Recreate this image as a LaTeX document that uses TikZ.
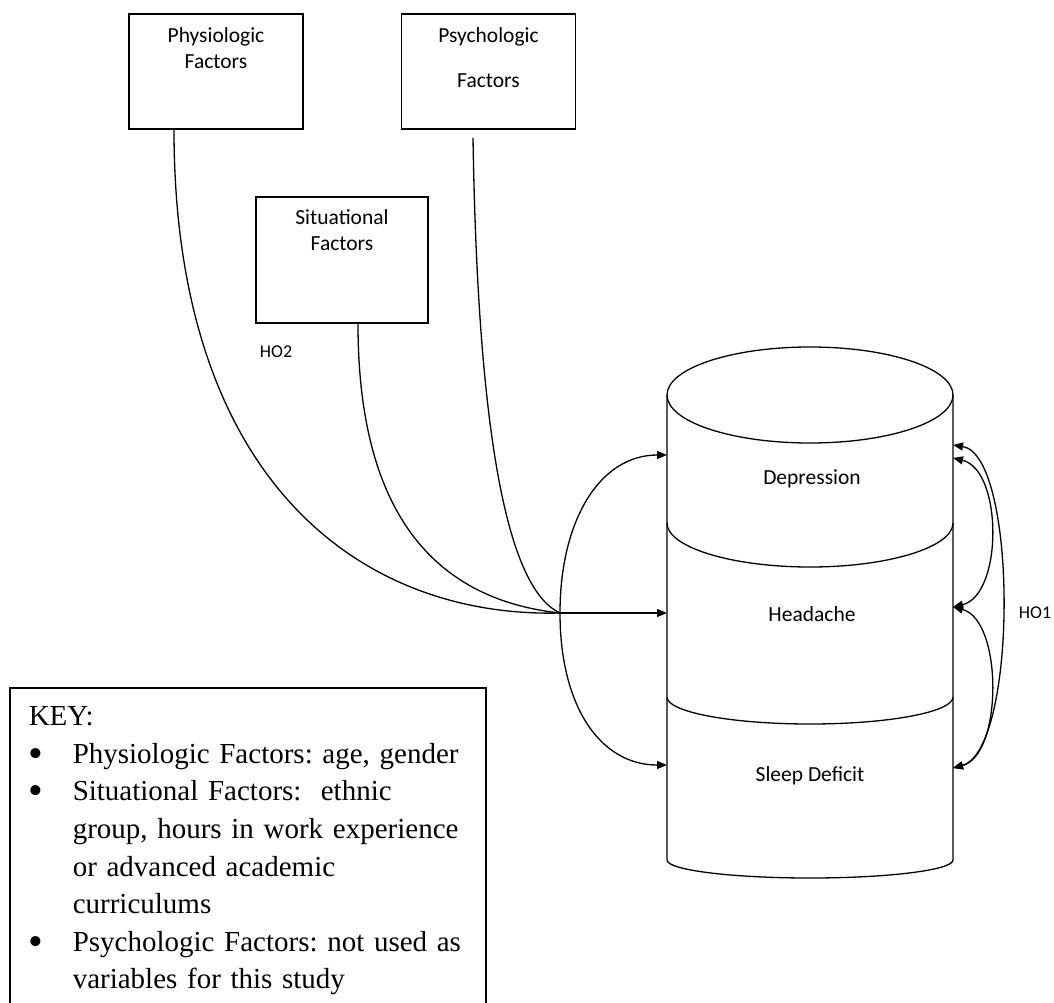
\documentclass[tikz,border=0pt]{standalone}
\usepackage{fontspec}
\usepackage{graphicx}
\setmainfont{Liberation Serif}
\newfontfamily\calibri{Carlito}
\usetikzlibrary{arrows.meta,positioning}
\newcommand\keybullet{\raisebox{-0.13em}{\scalebox{1.45}{\textbullet}}}
\newenvironment{keylist}{\setlength\linewidth{\hsize}\begin{list}{\keybullet}{\setlength\leftmargin{44pt}\setlength\labelwidth{44pt}\setlength\labelsep{0pt}\setlength\itemsep{0pt}\setlength\topsep{0pt}\setlength\partopsep{0pt}\setlength\parsep{0pt}\renewcommand\makelabel[1]{##1\hfil}}\raggedright}{\end{list}}

\begin{document}
\begin{tikzpicture}[x=1pt,y=-1pt,
  factor/.style={draw, line width=1.6pt, minimum width=174pt, minimum height=115pt, inner sep=0pt},
  boxtext/.style={font=\calibri\fontsize{21.5}{26}\selectfont, align=center, inner sep=0pt},
  hyp/.style={font=\calibri\fontsize{18}{22}\selectfont, inner sep=0pt},
  link/.style={line width=1.3pt},
  arrowlink/.style={line width=1.3pt, -{Triangle[length=10pt,width=8pt]}},
  twoway/.style={line width=1.3pt, {Triangle[length=10pt,width=8pt]}-{Triangle[length=10pt,width=8pt]}}]
\useasboundingbox (0,0) rectangle (1054,1003);
\clip (0,0) rectangle (1054,1003);

\node[factor] (phys) at (216,71.5) {};
\node[boxtext, anchor=north] (physlabel) at ([yshift=-14.5pt]phys.north) {Physiologic\\Factors};
\node[factor] (psy) at (488.5,71.5) {};
\node[boxtext, anchor=north] (psylabel) at ([yshift=-14.5pt]psy.north) {Psychologic\\[19pt]Factors};
\node[factor, minimum width=172pt, minimum height=126pt] (sit) at (342,260) {};
\node[boxtext, anchor=north] (sitlabel) at ([yshift=-13pt]sit.north) {Situational\\Factors};
\node[hyp] (hotwo) at (276,352) {HO2};
\node[hyp] (hoone) at (1035,613) {HO1};

\draw[link] (810,395) ellipse [x radius=143, y radius=48];
\draw[link] (667,395) -- (667,860) .. controls (667,870) and (731,878) .. (810,878) .. controls (889,878) and (953,870) .. (953,860) -- (953,395);
\draw[link] (667,523) .. controls (667,547) and (731,567) .. (810,567) .. controls (889,567) and (953,547) .. (953,523);
\draw[link] (667,697) .. controls (667,712) and (731,724) .. (810,724) .. controls (889,724) and (953,712) .. (953,697);
\node[boxtext] (dep) at (812,479) {Depression};
\node[boxtext] (head) at (812,614) {Headache};
\node[boxtext] (sleep) at (810,776) {Sleep Deficit};

\coordinate (hub) at (560,613);
\coordinate (depin) at (667,455);
\coordinate (headin) at (667,613);
\coordinate (sleepin) at (667,765);
\coordinate (depout) at (953,445);
\coordinate (depouttwo) at (953,458);
\coordinate (headout) at (953,607);
\coordinate (sleepout) at (953,768);

\draw[link] ([xshift=-42pt]phys.south) .. controls (174,480) and (360,618) .. (hub);
\draw[link] ([xshift=16pt]sit.south) .. controls (358,520) and (440,600) .. (hub);
\draw[link] ([shift={(-15.5,8)}]psy.south) .. controls (478,450) and (510,590) .. (hub);
\draw[arrowlink] (hub) -- (headin);
\draw[arrowlink] (hub) .. controls (560,520) and (600,455) .. (depin);
\draw[arrowlink] (hub) .. controls (560,706) and (600,765) .. (sleepin);

\draw[twoway] (depout) .. controls (1018,455) and (1018,750) .. (sleepout);
\draw[twoway] (depouttwo) .. controls (1003,470) and (1003,595) .. (headout);
\draw[twoway] (headout) .. controls (1003,620) and (1003,755) .. (sleepout);

\node[draw, line width=1.5pt, anchor=north west, text width=438pt, inner xsep=19pt, inner ysep=19pt, align=left, font=\fontsize{29}{37.6}\selectfont\frenchspacing] (key) at (9,687) {KEY:
\begin{keylist}
\item Physiologic Factors: age, gender
\item Situational Factors:~ ethnic\\group, hours in work experience\\or advanced academic\\curriculums
\item Psychologic Factors: not used as\\variables for this study
\end{keylist}};
\end{tikzpicture}
\end{document}
